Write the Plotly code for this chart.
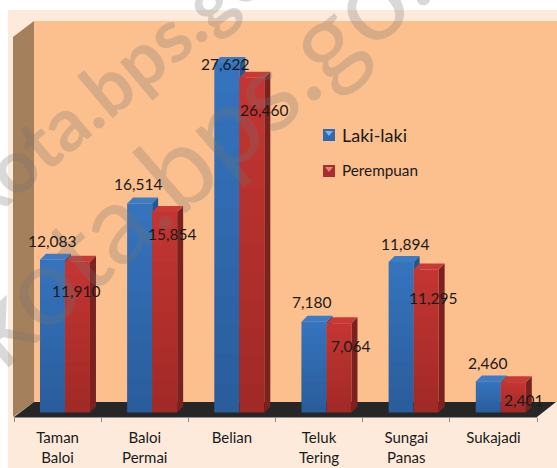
import plotly.graph_objects as go

categories = ["Taman<br>Baloi", "Baloi<br>Permai", "Belian", "Teluk<br>Tering", "Sungai<br>Panas", "Sukajadi"]
laki_laki = [12083, 16514, 27622, 7180, 11894, 2460]
perempuan = [11910, 15854, 26460, 7064, 11295, 2401]

W, H = 557, 468
L, R, T, B = 14, 537, 21, 417
Y0 = 412.5
PX_PER_UNIT = 0.01265
PX_PER_CAT = (R - L) / 6
FONT = "Lato"

yrange = [-(B - Y0) / PX_PER_UNIT, (Y0 - T) / PX_PER_UNIT]
xrange_ = [-0.5, 5.5]
SHIFT = 7.4 / PX_PER_CAT
BW = 25 / PX_PER_CAT
DX, DY = 6 / PX_PER_CAT, 6 / PX_PER_UNIT


def px(x):
    return (x - L) / (R - L)


def py(y):
    return (B - y) / (B - T)


def poly(points, color, layer="below"):
    path = "M " + " L ".join(f"{px(x):.5f},{py(y):.5f}" for x, y in points) + " Z"
    return dict(type="path", xref="paper", yref="paper", path=path, fillcolor=color,
                line_width=0, layer=layer)


fig = go.Figure()


def depth_traces(values, left_off, side_color, cap_color):
    for i, v in enumerate(values):
        x0 = i + SHIFT + left_off
        x1 = x0 + BW
        fig.add_trace(go.Scatter(
            x=[x1, x1 + DX, x1 + DX, x1], y=[0, DY, v + DY, v],
            fill="toself", fillcolor=side_color, mode="lines", line_width=0,
            showlegend=False, hoverinfo="skip"))
        fig.add_trace(go.Scatter(
            x=[x0, x1, x1 + DX, x0 + DX], y=[v, v, v + DY, v + DY],
            fill="toself", fillcolor=cap_color, mode="lines", line_width=0,
            showlegend=False, hoverinfo="skip"))


depth_traces(laki_laki, -BW, "#24568F", "#3C7CC4")
depth_traces(perempuan, 0, "#7A2220", "#C93A36")

xs = [i + SHIFT for i in range(6)]
fig.add_trace(go.Bar(x=xs, y=laki_laki, name="Laki-laki", showlegend=False,
                     marker=dict(color="#3675C0", line_width=0), xaxis="x2", yaxis="y2",
                     width=BW, offset=-BW, hoverinfo="skip"))
fig.add_trace(go.Bar(x=xs, y=perempuan, name="Perempuan", showlegend=False,
                     marker=dict(color="#C73633", line_width=0), xaxis="x2", yaxis="y2",
                     width=BW, offset=0, hoverinfo="skip"))
# darkening towards the floor: translucent layers of decreasing height
for k in range(1, 13):
    frac = k / 12
    for values, off in ((laki_laki, -BW), (perempuan, 0)):
        fig.add_trace(go.Bar(x=xs, y=[v * frac for v in values], showlegend=False,
                             marker=dict(color="rgba(0,0,0,0.017)", line_width=0),
                             xaxis="x2", yaxis="y2", width=BW, offset=off, hoverinfo="skip"))

shapes = [
    poly([(8, 10), (557, 10), (557, 468), (8, 468)], "#FDEADA"),
    poly([(34, 21), (557, 21), (557, 402), (34, 402)], "#FBC08D"),
    poly([(13, 37), (34, 21), (34, 402), (13, 417)], "#A5805C"),
    poly([(34, 402), (556, 402), (537, 417), (14, 417)], "#262626"),
    # legend swatches
    poly([(323, 129), (335, 129), (335, 141), (323, 141)], "#2F69AE", "above"),
    poly([(325, 131), (333, 131), (329, 136)], "#7FB2E8", "above"),
    poly([(323, 165), (335, 165), (335, 177), (323, 177)], "#A82E2C", "above"),
    poly([(325, 167), (333, 167), (329, 172)], "#E8807C", "above"),
]

blue_offsets = [(0, -19), (-2, -20), (-2, 1), (-2, -20), (4, -18), (-1, -18)]
red_offsets = [(-1, 29), (7, 22), (12, 32), (12, 23), (7, 28), (10, 18)]
annotations = []

for text, cx, cy, size, angle in (("<b>kota.bps.go.id</b>", 140, 57, 74, -40),
                                  ("kota.bps.go.id", 225, 122, 110, -41)):
    annotations.append(dict(
        x=(cx - L) / PX_PER_CAT - 0.5, y=(Y0 - cy) / PX_PER_UNIT, xref="x", yref="y",
        text=text, showarrow=False, textangle=angle,
        font=dict(family=FONT, size=size, color="rgba(115,115,115,0.27)")))

for i in range(6):
    for values, offs, off_x in ((laki_laki, blue_offsets, -BW / 2), (perempuan, red_offsets, BW / 2)):
        annotations.append(dict(
            x=xs[i] + off_x, y=values[i], xref="x", yref="y", text=f"{values[i]:,}",
            showarrow=False, xshift=offs[i][0], yshift=-offs[i][1],
            font=dict(family=FONT, size=15.5, color="#1A1A1A")))

for text, cx, cy, size in (("Laki-laki", 340, 135, 18), ("Perempuan", 340, 170, 15.3)):
    annotations.append(dict(
        x=px(cx), y=py(cy), xref="paper", yref="paper", text=text, showarrow=False,
        xanchor="left", yanchor="middle", font=dict(family=FONT, size=size, color="#1A1A1A")))

axis_common = dict(showgrid=False, zeroline=False, automargin=False)
fig.update_layout(
    width=W, height=H, autosize=False,
    margin=dict(l=L, r=W - R, t=T, b=H - B, pad=0, autoexpand=False),
    paper_bgcolor="white", plot_bgcolor="rgba(0,0,0,0)",
    barmode="overlay", shapes=shapes, annotations=annotations, showlegend=False,
    font=dict(family=FONT, size=15, color="#1A1A1A"),
    xaxis=dict(range=xrange_, tickvals=list(range(6)), ticktext=categories,
               ticks="", ticklabelstandoff=7,
               showline=True, linecolor="#8C8C8C", linewidth=1,
               minor=dict(tickvals=[i - 0.5 for i in range(7)], ticks="outside", ticklen=4,
                          tickcolor="#8C8C8C", tickwidth=1),
               tickfont=dict(family=FONT, size=15, color="#1A1A1A"), **axis_common),
    yaxis=dict(range=yrange, visible=False, **axis_common),
    xaxis2=dict(range=xrange_, overlaying="x", visible=False, **axis_common),
    yaxis2=dict(range=yrange, overlaying="y", visible=False, **axis_common),
)

fig.write_html("out.html", config=dict(displayModeBar=False),
               post_script="document.body.style.margin='0';")
